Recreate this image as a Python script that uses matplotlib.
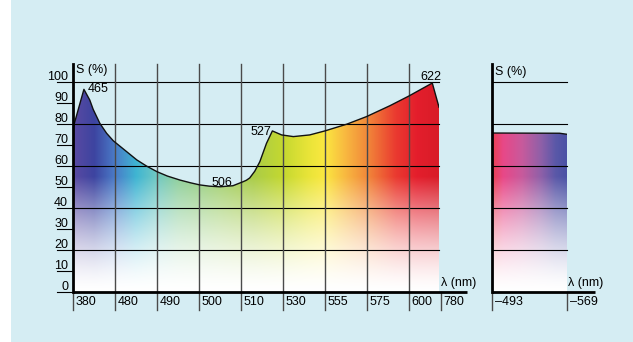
import numpy as np
import matplotlib
matplotlib.use('Agg')
import matplotlib.pyplot as plt
import matplotlib.patches as patches
from matplotlib.colors import to_rgb

plt.rcParams['font.family'] = ['Liberation Sans', 'DejaVu Sans']

# wavelength ticks (non-linear axis, one slot per label)
wl_labels = ['380', '480', '490', '500', '510', '530', '555', '575', '600', '780']
wl_pos = [0, 1, 2, 3, 4, 5, 6, 7, 8, 8.76]

# saturation curve of spectral colours (axis position, S %)
curve_x = [0.0, 0.26, 0.40, 0.48, 0.64, 0.80, 0.96, 1.28, 1.52, 1.75, 2.0, 2.25,
           2.55, 2.8, 3.02, 3.25, 3.5, 3.81, 4.05, 4.13, 4.21, 4.33, 4.45, 4.61,
           4.75, 4.97, 5.25, 5.64, 6.0, 6.52, 6.99, 7.55, 8.0, 8.56, 8.72]
curve_s = [78, 96.5, 91.4, 87.0, 80.3, 75.6, 72.0, 66.8, 62.9, 60.0, 57.3, 55.2,
           53.3, 52.0, 51.0, 50.4, 50.1, 50.6, 52.5, 53.2, 54.3, 57.5, 62.0, 70.8,
           76.7, 74.8, 74.0, 74.8, 76.7, 79.9, 83.5, 88.7, 93.3, 99.5, 88.0]

# labelled extremes: wavelength, position, S
peaks = [('465', 0.26, 96.5), ('506', 3.55, 50.1), ('527', 4.75, 76.7), ('622', 8.56, 99.5)]

# purple (non-spectral) colours
purple_labels = ['\u2013493', '\u2013569']
purple_pos = [0, 1]
purple_x = [0.0, 0.9, 1.0]
purple_s = [75.7, 75.6, 75.1]

# hue stops along the axes
spec_stops = [0, 0.5, 1.0, 1.5, 2.0, 2.5, 3.5, 4.3, 5.0, 5.6, 6.0, 6.5, 7.0, 7.7, 8.2, 8.72]
spec_cols = ['#5a4aa2', '#3d44a0', '#4a7cc8', '#3fb5d2', '#72c9c2', '#8fcf9c', '#a3d070',
             '#aacc48', '#c4d830', '#e8e438', '#fbe840', '#f8b840', '#f28a3a', '#ea3a30',
             '#e41e2c', '#d81c28']
purple_stops = [0, 0.15, 0.4, 0.65, 0.85, 1.0]
purple_cols = ['#e84050', '#e84888', '#c85a9c', '#9060a8', '#5a58a8', '#4a52a5']

BG = '#d5edf3'
W, H = 633, 342


def gradient(stops, cols, x0, x1):
    xs = np.linspace(x0, x1, 500)
    ys = np.linspace(0, 100, 300)
    rgb = np.array([to_rgb(c) for c in cols])
    top = np.stack([np.interp(xs, stops, rgb[:, k]) for k in range(3)], axis=-1)
    # fade towards white at low saturation
    f = np.clip(ys / 55.0, 0, 1) ** 1.5
    img = 1 - f[:, None, None] * (1 - top[None, :, :])
    return img


def add_panel(ax, px, py, stops, cols, x1):
    img = gradient(stops, cols, 0, x1)
    im = ax.imshow(img, extent=(0, x1, 0, 100), origin='lower', aspect='auto',
                   interpolation='bilinear', zorder=1)
    poly = patches.Polygon(list(zip(px, py)) + [(px[-1], 0), (0, 0)], closed=True,
                           facecolor='none', edgecolor='none')
    ax.add_patch(poly)
    im.set_clip_path(poly)
    ax.plot(px, py, color='#111111', lw=1.0, zorder=4, solid_joinstyle='round')


fig = plt.figure(figsize=(W / 100, H / 100), dpi=100, facecolor='white')
bg = patches.Rectangle((11 / W, 0), 1, 1, transform=fig.transFigure,
                       facecolor=BG, edgecolor='none', zorder=-10)
fig.add_artist(bg)

ypx = 2.1  # pixels per percent
top_s = (292 - 64) / ypx
below = -18 / ypx

# main spectral chart
ax = fig.add_axes([73 / W, 50 / H, (439 - 73) / W, 210 / H])
ax.set_xlim(0, 8.72)
ax.set_ylim(0, 100)
ax.axis('off')
add_panel(ax, curve_x, curve_s, spec_stops, spec_cols, 8.72)

for v in range(0, 101, 10):
    x_end = 8.72 if v % 20 == 0 and v > 0 else 0
    ax.plot([-16 / 42, x_end], [v, v], color='black', lw=0.8, clip_on=False, zorder=3)
    ax.text(-5 / 42, v + 1.0, str(v), ha='right', va='baseline', fontsize=9, clip_on=False)
for p, lab in zip(wl_pos, wl_labels):
    y_top = top_s if 0 < p < 8.7 else 0
    ax.plot([p, p], [below, y_top], color='#4a4a4a', lw=1.0, clip_on=False, zorder=3)
    ax.text(p + 2.5 / 42, -13 / ypx, lab, ha='left', va='baseline', fontsize=9, clip_on=False)
ax.plot([0, 0], [0, top_s], color='black', lw=2.0, clip_on=False, zorder=5)
ax.plot([0, (467 - 73) / 42], [0, 0], color='black', lw=2.0, clip_on=False, zorder=5,
        solid_capstyle='butt')
ax.text(3 / 42, 104.3, 'S (%)', ha='left', va='baseline', fontsize=9, clip_on=False)
ax.text(8.77, 2.9, '\u03bb (nm)', ha='left', va='baseline', fontsize=9, clip_on=False)

for lab, p, s in peaks:
    if lab == '465':
        ax.text(p + 4 / 42, s - 1.3, lab, ha='left', va='baseline', fontsize=9, zorder=6)
    elif lab == '506':
        ax.text(p, s + 0.5, lab, ha='center', va='baseline', fontsize=9, zorder=6)
    elif lab == '527':
        ax.text(p - 1 / 42, s - 1.9, lab, ha='right', va='baseline', fontsize=9, zorder=6)
    else:
        ax.text(p - 1.5 / 42, s + 1.5, lab, ha='center', va='baseline', fontsize=9,
                clip_on=False, zorder=6)

# purple line panel
xp = 74.5  # pixels per unit
ax2 = fig.add_axes([492.5 / W, 50 / H, (567 - 492.5) / W, 210 / H])
ax2.set_xlim(0, 1)
ax2.set_ylim(0, 100)
ax2.axis('off')
add_panel(ax2, purple_x, purple_s, purple_stops, purple_cols, 1.0)
for v in range(20, 101, 20):
    ax2.plot([0, 1], [v, v], color='black', lw=0.8, clip_on=False, zorder=3)
for p, lab in zip(purple_pos, purple_labels):
    ax2.plot([p, p], [below, 0], color='#4a4a4a', lw=1.0, clip_on=False, zorder=3)
    ax2.text(p + 2.5 / xp, -13 / ypx, lab, ha='left', va='baseline', fontsize=9, clip_on=False)
ax2.plot([0, 0], [0, top_s], color='black', lw=2.0, clip_on=False, zorder=5)
ax2.plot([0, (595 - 492.5) / xp], [0, 0], color='black', lw=2.0, clip_on=False, zorder=5,
         solid_capstyle='butt')
ax2.text(3 / xp, 103.1, 'S (%)', ha='left', va='baseline', fontsize=9, clip_on=False)
ax2.text(1 + 1.5 / xp, 2.9, '\u03bb (nm)', ha='left', va='baseline', fontsize=9, clip_on=False)

fig.savefig('out.png', dpi=100, facecolor='white')
